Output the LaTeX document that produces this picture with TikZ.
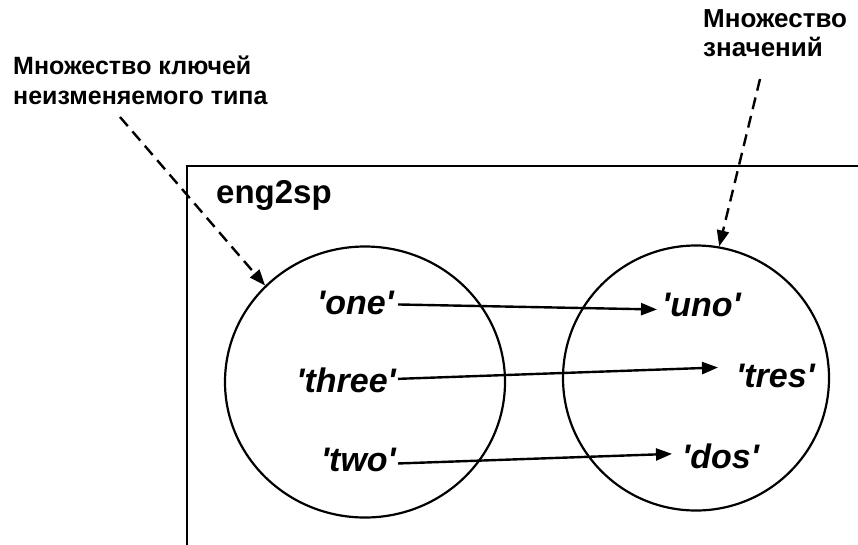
\documentclass[tikz,border=0pt]{standalone}
\usepackage{fontspec}
\newfontfamily\af{Liberation Sans}
\usetikzlibrary{shapes.geometric,arrows.meta}
\begin{document}
\begin{tikzpicture}[x=1pt,y=-1pt,
  set/.style={draw,ellipse,line width=2.2pt,inner sep=0pt},
  item/.style={inner sep=0pt,font=\af\fontsize{34}{36}\selectfont\bfseries\itshape},
  note/.style={inner sep=0pt,align=left},
  map/.style={line width=2.4pt,-{Triangle[length=16pt,width=12pt]}},
  hint/.style={line width=2.4pt,dash pattern=on 12pt off 7pt,-{Triangle[length=16pt,width=12pt]}}]
\useasboundingbox (0,0) rectangle (858,544);
% dictionary frame
\draw[line width=2.2pt] (880,166) -- (187,166) -- (187,570);
\node[anchor=base west,inner sep=0pt,font=\af\fontsize{33}{36}\selectfont\bfseries] (name) at (216,203) {eng2sp};
% sets
\node[set,minimum width=280pt,minimum height=271pt] (keys) at (365,382) {};
\node[set,minimum width=266pt,minimum height=265pt] (vals) at (696,378) {};
% keys
\node[item,anchor=base east] (one) at (394,314) {'one'};
\node[item,anchor=base east] (three) at (396,392) {'three'};
\node[item,anchor=base east] (two) at (396,471) {'two'};
% values
\node[item,anchor=base west] (uno) at (662,316) {'uno'};
\node[item,anchor=base west] (tres) at (736,387) {'tres'};
\node[item,anchor=base west] (dos) at (682,468) {'dos'};
% mappings
\draw[map] ([xshift=4pt,yshift=-2pt]one.east) -- ([xshift=-5pt,yshift=-5pt]uno.west);
\draw[map] ([xshift=2pt,yshift=1pt]three.east) -- ([xshift=-18pt,yshift=8pt]tres.west);
\draw[map] ([xshift=2pt,yshift=-4pt]two.east) -- ([xshift=-10pt,yshift=2pt]dos.west);
% notes
\node[note,anchor=north west,font=\af\fontsize{25}{30}\selectfont\bfseries] (keynote) at (13,56)
  {Множество ключей\\неизменяемого типа};
\node[note,anchor=north west,font=\af\fontsize{26}{29}\selectfont\bfseries] (valnote) at (703,9)
  {Множество\\значений};
\coordinate (keyfrom) at (120,117);
\coordinate (valfrom) at (760,79);
\draw[hint] (keyfrom) -- (keys.136);
\draw[hint] (valfrom) -- (vals.80);
\end{tikzpicture}
\end{document}
